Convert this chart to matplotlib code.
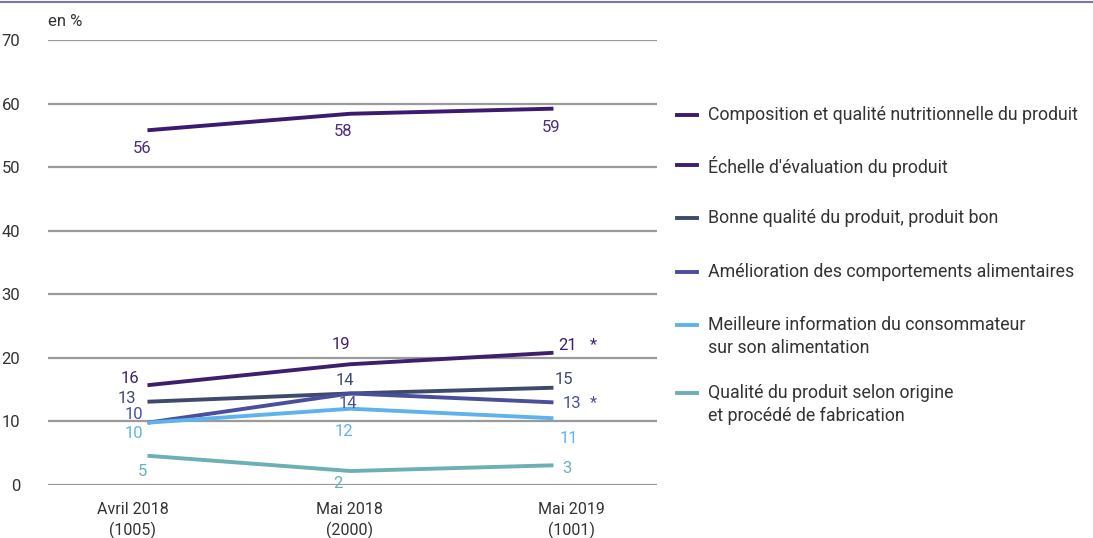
import matplotlib.pyplot as plt
from matplotlib.lines import Line2D
from matplotlib.transforms import ScaledTranslation

plt.rcParams['font.family'] = ['Roboto', 'DejaVu Sans']

# data
periods = ['Avril 2018\n(1005)', 'Mai 2018\n(2000)', 'Mai 2019\n(1001)']
series_names = [
    'Composition et qualité nutritionnelle du produit',
    "Échelle d'évaluation du produit",
    'Bonne qualité du produit, produit bon',
    'Amélioration des comportements alimentaires',
    'Meilleure information du consommateur\nsur son alimentation',
    'Qualité du produit selon origine\net procédé de fabrication',
]
composition = [55.8, 58.4, 59.2]
echelle = [15.7, 19.0, 20.8]
bonne_qualite = [13.1, 14.4, 15.3]
amelioration = [9.8, 14.4, 13.0]
information = [9.8, 12.0, 10.5]
origine = [4.6, 2.2, 3.1]
labels_shown = [
    [56, 58, 59],
    [16, 19, 21],
    [13, 14, 15],
    [10, 14, 13],
    [10, 12, 11],
    [5, 2, 3],
]
starred = [False, True, False, True, False, False]  # asterisk after last value

all_series = [composition, echelle, bonne_qualite, amelioration, information, origine]
colors = ['#3b1a6f', '#3d1f6e', '#3e4a6b', '#4a4f9c', '#5fb3ec', '#6cb0b5']
text_colors = ['#4a2c82', '#3d1f6e', '#3e4a6b', '#4a4f9c', '#5fb3ec', '#6cb0b5']
# label offsets in pixels (dx, dy) for each point
offsets = [
    [(-5, -18), (-7, -18), (-2, -19)],
    [(-18, 7), (-10, 20), (14, 7)],
    [(-21, 3), (-6, 13), (10, 8)],
    [(-14, 8), (-3, -10), (18, -1)],
    [(-14, -11), (-7, -23), (15, -20)],
    [(-5, -16), (-13, -12), (13, -3)],
]

fig = plt.figure(figsize=(10.93, 5.38), dpi=100)
ax = fig.add_axes([48 / 1093, 53 / 538, 609 / 1093, 445 / 538])

x = range(len(periods))
for vals, col in zip(all_series, colors):
    ax.plot(x, vals, color=col, lw=2.8, solid_capstyle='butt', zorder=3)

for vals, labs, offs, tcol, star in zip(all_series, labels_shown, offsets, text_colors, starred):
    for i, (v, lab, off) in enumerate(zip(vals, labs, offs)):
        ax.annotate(str(lab), (i, v), xytext=off, textcoords='offset pixels',
                    ha='center', va='center', fontsize=12, color=tcol,
                    annotation_clip=False, zorder=4)
    if star:
        ax.annotate('*', (2, vals[2]), xytext=(40, offs[2][1] + 1),
                    textcoords='offset pixels', ha='center', va='center',
                    fontsize=12, color=tcol, annotation_clip=False)

ax.set_xlim(-0.49, 2.51)
ax.set_ylim(0, 70)
ax.set_yticks(range(0, 71, 10))
ax.grid(axis='y', color='#9a9a9a', lw=1.6)
ax.set_axisbelow(True)
for s in ax.spines.values():
    s.set_visible(False)
ax.tick_params(axis='y', length=0, pad=20, labelsize=12, labelcolor='#333333')
ax.tick_params(axis='x', length=0, pad=12, labelsize=11.5, labelcolor='#333333')
for t in ax.get_yticklabels():
    t.set_horizontalalignment('right')

ax.set_xticks(list(x))
ax.set_xticklabels(periods, linespacing=1.35)
# tick labels sit a little wider than the data points
shifts = [-15, -1, 18]
for t, dx in zip(ax.get_xticklabels(), shifts):
    t.set_transform(t.get_transform() + ScaledTranslation(dx / 100, 0, fig.dpi_scale_trans))

ax.text(0.0, 1.025, 'en %', transform=ax.transAxes, ha='left', va='bottom',
        fontsize=12, color='#333333')

# top rule
fig.add_artist(Line2D([0, 1], [1 - 1.5 / 538, 1 - 1.5 / 538], color='#7a72b5', lw=1.5))

# legend drawn by hand so the handle aligns with the first text line
legend_y = [115, 165, 218, 272, 325, 393]
for name, col, y in zip(series_names, colors, legend_y):
    fy = 1 - y / 538
    fig.add_artist(Line2D([677 / 1093, 697 / 1093], [fy, fy], color=col, lw=2.8))
    fig.text(708 / 1093, 1 - (y - 9) / 538, name, ha='left', va='top',
             fontsize=12.8, color='#333333', linespacing=1.35)

fig.savefig('out.png', dpi=100)
